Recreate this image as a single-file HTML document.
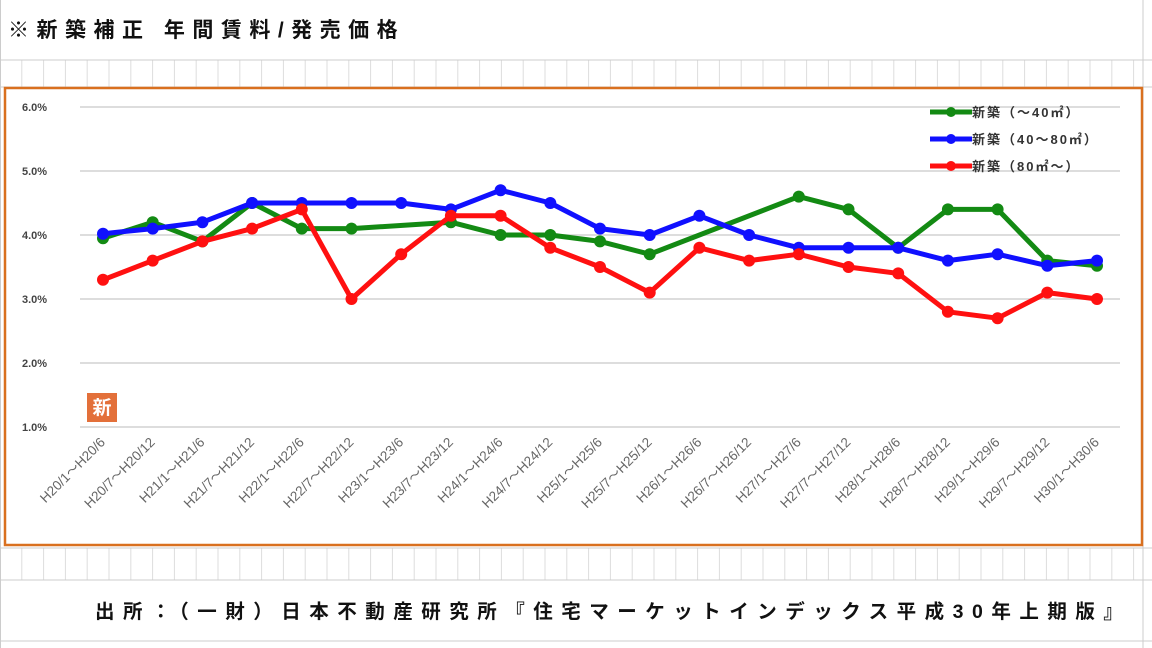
<!DOCTYPE html>
<html><head><meta charset="utf-8"><style>
body{margin:0;width:1152px;height:648px;background:#fff;overflow:hidden;font-family:"Liberation Sans","Noto Sans CJK JP",sans-serif}
svg{position:absolute;left:0;top:0}
</style></head><body>
<svg id="s" width="1152" height="648" xmlns="http://www.w3.org/2000/svg"></svg>
<script>
const s=document.getElementById('s');let h='';
h+='<rect x="0" y="0" width="1152" height="648" fill="#fff"/>';
for(let x=0;x<=1152;x+=21.8){h+=`<line x1="${x}" y1="60" x2="${x}" y2="87" stroke="#ddd"/><line x1="${x}" y1="548" x2="${x}" y2="580" stroke="#ddd"/>`;}
[60,87,548,580,641].forEach(y=>h+=`<line x1="0" y1="${y}" x2="1152" y2="${y}" stroke="#ccc"/>`);
h+='<line x1="0.5" y1="0" x2="0.5" y2="648" stroke="#ccc"/><line x1="1143" y1="0" x2="1143" y2="648" stroke="#ccc"/>';
h+='<text x="8" y="37" font-size="21" font-weight="bold" fill="#111" letter-spacing="7.5">※新築補正 年間賃料/発売価格</text>';
h+='<rect x="5" y="88" width="1137" height="457" fill="#fff" stroke="#d9701f" stroke-width="2.5"/>';
const Y=v=>107+(6-v)*64;
for(let v=1;v<=6;v++){h+=`<line x1="80" y1="${Y(v)}" x2="1120" y2="${Y(v)}" stroke="#ddd" stroke-width="2"/><text x="22" y="${Y(v)+4}" font-size="11" font-weight="bold" fill="#444">${v}.0%</text>`;}
const X=i=>103+49.7*i;
const labs=[];for(let y=20;y<=30;y++){labs.push(`H${y}/1～H${y}/6`);if(y<30)labs.push(`H${y}/7～H${y}/12`);}
labs.forEach((l,i)=>{const x=X(i)+3,y=443;h+=`<text x="${x}" y="${y}" font-size="13.5" fill="#666" text-anchor="end" transform="rotate(-45 ${x} ${y})">${l}</text>`;});
const G=[3.95,4.2,3.9,4.5,4.1,4.1,null,4.2,4.0,4.0,3.9,3.7,null,null,4.6,4.4,3.8,4.4,4.4,3.6,3.52];
const B=[4.02,4.1,4.2,4.5,4.5,4.5,4.5,4.4,4.7,4.5,4.1,4.0,4.3,4.0,3.8,3.8,3.8,3.6,3.7,3.52,3.6];
const R=[3.3,3.6,3.9,4.1,4.4,3.0,3.7,4.3,4.3,3.8,3.5,3.1,3.8,3.6,3.7,3.5,3.4,2.8,2.7,3.1,3.0];
function ser(d,c){let p=[];d.forEach((v,i)=>{if(v!=null)p.push([X(i),Y(v)]);});
h+=`<polyline points="${p.map(a=>a.join(',')).join(' ')}" fill="none" stroke="${c}" stroke-width="5" stroke-linejoin="round"/>`;
p.forEach(a=>h+=`<circle cx="${a[0]}" cy="${a[1]}" r="6" fill="${c}"/>`);}
ser(G,'#138a13');ser(B,'#1010ff');ser(R,'#ff1010');
[['#138a13','新築（～40㎡）'],['#1010ff','新築（40～80㎡）'],['#ff1010','新築（80㎡～）']].forEach((a,k)=>{const y=112+27*k;
h+=`<line x1="930" y1="${y}" x2="972" y2="${y}" stroke="${a[0]}" stroke-width="5"/><circle cx="951" cy="${y}" r="5" fill="${a[0]}"/><text x="972" y="${y+5}" font-size="13" font-weight="bold" fill="#333" letter-spacing="2">${a[1]}</text>`;});
h+='<rect x="87" y="393" width="30" height="29" fill="#e3703a"/><text x="102" y="414" font-size="19" font-weight="bold" fill="#fff" text-anchor="middle">新</text>';
h+='<text x="95" y="618" font-size="19.5" font-weight="bold" fill="#111" letter-spacing="8.5">出所：（一財）日本不動産研究所『住宅マーケットインデックス平成30年上期版』</text>';
s.innerHTML=h;
</script>
</body></html>
